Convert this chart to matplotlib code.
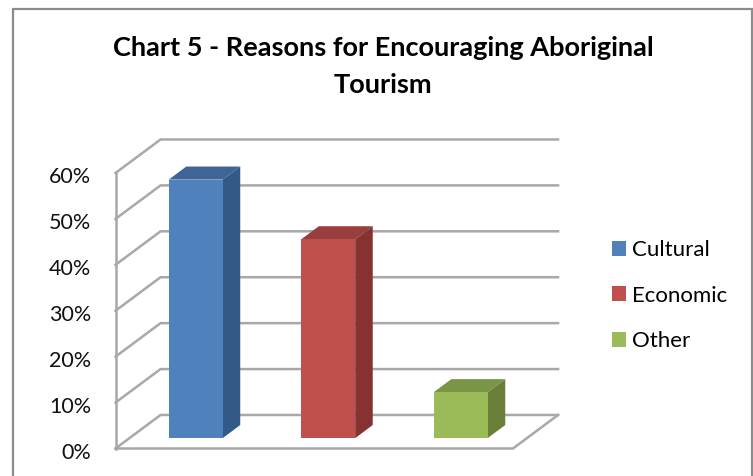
import matplotlib
matplotlib.use("Agg")
import matplotlib.pyplot as plt
from matplotlib.patches import Rectangle, Polygon
from matplotlib.transforms import ScaledTranslation

categories = ["Cultural", "Economic", "Other"]
values = [56.3, 43.3, 10]
tick_values = [0, 10, 20, 30, 40, 50, 60]
tick_labels = ["0%", "10%", "20%", "30%", "40%", "50%", "60%"]
front_colors = ["#4F81BD", "#C0504D", "#9BBB59"]
top_colors = ["#3E6595", "#983F3D", "#7B9546"]
side_colors = ["#335A86", "#843331", "#6A8039"]

plt.rcParams['font.family'] = ['Lato', 'DejaVu Sans']

W, H = 753, 476
fig = plt.figure(figsize=(W / 100, H / 100), dpi=100)
ax = fig.add_axes([115.5 / W, (H - 448.5) / H, 397.5 / W, 275.5 / H])
ax.set_xlim(-0.5, 2.5)
ax.set_ylim(0, 60)

# fake 3d: depth of the floor, in data units
dx = 0.34
dy = 7.3
grid = "#A8A8A8"
bar_w = 0.407
depth_from = 0.31
depth_size = 0.39

# walls and floor
for t in tick_values:
    ax.plot([-0.5, -0.5 + dx, 2.5 + dx], [t, t + dy, t + dy], color=grid, lw=1.8,
            clip_on=False, zorder=1, solid_joinstyle="miter")
ax.plot([-0.5, -0.5], [0, 60], color=grid, lw=1.8, clip_on=False, zorder=1)
ax.plot([-0.5, 2.5, 2.5 + dx], [0, 0, dy], color=grid, lw=1.8, clip_on=False, zorder=1)

# bars, front face from the library, top and side from the same numbers
x_pos = [i + depth_from * dx for i in range(len(values))]
base = depth_from * dy
bars = ax.bar(x_pos, values, bottom=base, width=bar_w, color=front_colors, zorder=4,
              clip_on=False)
ox = depth_size * dx
oy = depth_size * dy
for i, v in enumerate(values):
    l = x_pos[i] - bar_w / 2
    r = x_pos[i] + bar_w / 2
    t = base + v
    ax.add_patch(Polygon([(l, t), (r, t), (r + ox, t + oy), (l + ox, t + oy)],
                         facecolor=top_colors[i], clip_on=False, zorder=3))
    ax.add_patch(Polygon([(r, base), (r + ox, base + oy), (r + ox, t + oy), (r, t)],
                         facecolor=side_colors[i], clip_on=False, zorder=3))

ax.set_xticks([])
ax.set_yticks(tick_values)
ax.set_yticklabels(tick_labels, fontsize=15.5, color="#111111")
ax.tick_params(axis="y", length=0, pad=17.5)
shift = ScaledTranslation(0, -2.5 / 100, fig.dpi_scale_trans)
for lab in ax.get_yticklabels():
    lab.set_transform(lab.get_transform() + shift)
for s in ax.spines.values():
    s.set_visible(False)
ax.patch.set_visible(False)

fig.text(383 / W, 1 - 48 / H, "Chart 5 - Reasons for Encouraging Aboriginal",
         ha="center", va="center", fontsize=19.5, fontweight="bold", color="black")
fig.text(383 / W, 1 - 85 / H, "Tourism",
         ha="center", va="center", fontsize=19.5, fontweight="bold", color="black")

handles = [Rectangle((0, 0), 1, 1, facecolor=c) for c in front_colors]
fig.legend(handles, categories, loc="upper left", bbox_to_anchor=(612 / W, 1 - 240 / H),
           frameon=False, fontsize=16, handlelength=0.64, handleheight=0.64,
           handletextpad=0.27, labelspacing=1.15, borderpad=0, borderaxespad=0)

# outer frame, the bottom edge runs off the picture
fig.add_artist(Rectangle((13 / W, -0.02), (752 - 13) / W, 1.02 - 9.5 / H, transform=fig.transFigure,
                         fill=False, edgecolor="#8C8C8C", lw=1.6))

fig.savefig("out.png", dpi=100)
